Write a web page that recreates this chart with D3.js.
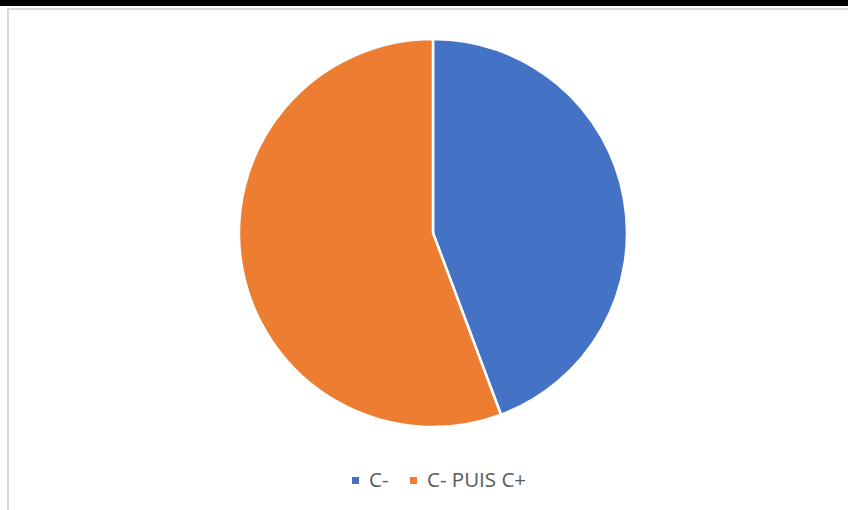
<!DOCTYPE html>
<html>
<head>
<meta charset="utf-8">
<script src="https://cdn.jsdelivr.net/npm/d3@7"></script>
<style>
  body { margin: 0; background: #fff; }
  svg { display: block; }
</style>
</head>
<body>
<svg width="848" height="510"></svg>
<script>
 // data
 var categories = ["C-", "C- PUIS C+"];
 var values = [44.3, 55.7];
 var colors = ["#4472c4", "#ed7d31"];

 var svg = d3.select("svg");
 var width = +svg.attr("width");
 var height = +svg.attr("height");

 // black strip on top + light grey frame
 svg.append("rect").attr("x", 0).attr("y", 0).attr("width", width).attr("height", 6).attr("fill", "#000");
 svg.append("path")
   .attr("d", "M8,510 V9 H848")
   .attr("fill", "none")
   .attr("stroke", "#d9d9d9")
   .attr("stroke-width", 2);

 var cx = 433, cy = 233, r = 194;

 var pie = d3.pie().sort(null).value(d => d);
 var arc = d3.arc().innerRadius(0).outerRadius(r);

 var color = d3.scaleOrdinal().domain(categories).range(colors);

 svg.append("g")
   .attr("transform", "translate(" + cx + "," + cy + ")")
   .selectAll("path")
   .data(pie(values))
   .enter()
   .append("path")
   .attr("d", arc)
   .attr("fill", (d, i) => color(categories[i]))
   .attr("stroke", "#fff")
   .attr("stroke-width", 2.5)
   .attr("stroke-linejoin", "round");

 // legend
 var legendX = [352, 410];
 var legend = svg.append("g");
 var items = legend.selectAll("g")
   .data(categories)
   .enter()
   .append("g")
   .attr("transform", (d, i) => "translate(" + legendX[i] + ",477)");

 items.append("rect")
   .attr("width", 7)
   .attr("height", 7)
   .attr("fill", d => color(d));

 items.append("text")
   .attr("x", 17)
   .attr("y", 10)
   .attr("font-family", "'Open Sans', sans-serif")
   .attr("font-size", 20.5)
   .attr("fill", "#595959")
   .text(d => d);
</script>
</body>
</html>
